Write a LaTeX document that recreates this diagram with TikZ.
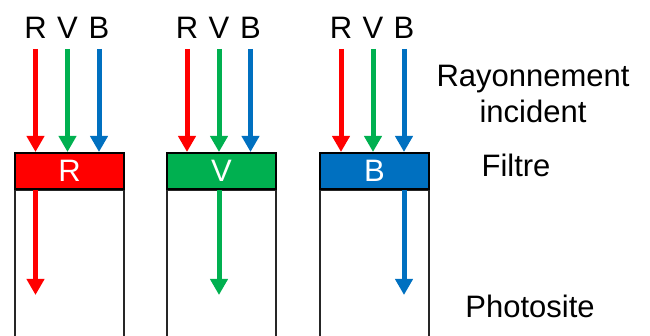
\documentclass[tikz,border=0pt]{standalone}
\usepackage{fontspec}
\usepackage{tikz}
\usetikzlibrary{arrows.meta,positioning}
\newfontfamily\arialfont{Liberation Sans}
\definecolor{rouge}{HTML}{FF0000}
\definecolor{vert}{HTML}{00B050}
\definecolor{bleu}{HTML}{0070C0}
\tikzset{
  txt/.style={font=\arialfont\fontsize{31}{36}\selectfont,anchor=base,inner sep=0pt},
  fleche/.style={line width=5pt,-{Triangle[width=17pt,length=16pt]}},
  filtre/.style={draw=black,line width=2pt,minimum width=109pt,minimum height=36pt,
    inner sep=0pt,text=white,font=\arialfont\fontsize{31}{36}\selectfont},
  photosite/.style={draw=black!85,line width=1.6pt,minimum width=109pt,minimum height=160pt,
    anchor=north,inner sep=0pt}
}
\begin{document}
\begin{tikzpicture}[x=1pt,y=-1pt]
\useasboundingbox (0,0) rectangle (650,336);
% filtres et photosites
\node[photosite] (pR) at (69.5,189) {};
\node[photosite] (pV) at (221.5,189) {};
\node[photosite] (pB) at (374.5,189) {};
\node[filtre,fill=rouge] (fR) at (69.5,171) {R};
\node[filtre,fill=vert] (fV) at (221.5,171) {V};
\node[filtre,fill=bleu] (fB) at (374.5,171) {B};
% rayonnement incident
\node[txt] (lR1) at (35.5,39) {R};
\node[txt] (lV1) at (67.5,39) {V};
\node[txt] (lB1) at (99,39) {B};
\node[txt] (lR2) at (187,39) {R};
\node[txt] (lV2) at (219,39) {V};
\node[txt] (lB2) at (250.5,39) {B};
\node[txt] (lR3) at (341,39) {R};
\node[txt] (lV3) at (373,39) {V};
\node[txt] (lB3) at (404,39) {B};
\coordinate (iR1) at (35.5,49);
\coordinate (iV1) at (67.5,49);
\coordinate (iB1) at (99,49);
\coordinate (iR2) at (187,49);
\coordinate (iV2) at (219,49);
\coordinate (iB2) at (250.5,49);
\coordinate (iR3) at (341,49);
\coordinate (iV3) at (373,49);
\coordinate (iB3) at (404,49);
\draw[fleche,rouge] (iR1) -- (iR1 |- fR.north);
\draw[fleche,vert] (iV1) -- (iV1 |- fR.north);
\draw[fleche,bleu] (iB1) -- (iB1 |- fR.north);
\draw[fleche,rouge] (iR2) -- (iR2 |- fV.north);
\draw[fleche,vert] (iV2) -- (iV2 |- fV.north);
\draw[fleche,bleu] (iB2) -- (iB2 |- fV.north);
\draw[fleche,rouge] (iR3) -- (iR3 |- fB.north);
\draw[fleche,vert] (iV3) -- (iV3 |- fB.north);
\draw[fleche,bleu] (iB3) -- (iB3 |- fB.north);
% lumiere transmise
\coordinate (oR) at (35.5,295);
\coordinate (oV) at (219,295);
\coordinate (oB) at (404,295);
\draw[fleche,rouge] (oR |- fR.south) -- (oR);
\draw[fleche,vert] (oV |- fV.south) -- (oV);
\draw[fleche,bleu] (oB |- fB.south) -- (oB);
% legendes
\node[txt] (ray) at (533,87) {Rayonnement};
\node[txt] (inc) at (533,123) {incident};
\node[txt] (fil) at (516,176.5) {Filtre};
\node[txt] (pho) at (530,317) {Photosite};
\end{tikzpicture}
\end{document}
